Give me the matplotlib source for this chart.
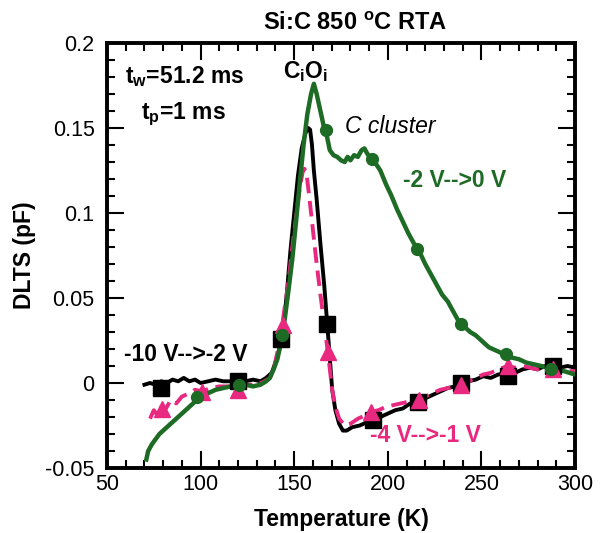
import matplotlib
matplotlib.use("Agg")
import matplotlib.pyplot as plt

plt.rcParams['font.family'] = ['Liberation Sans', 'DejaVu Sans']
plt.rcParams['mathtext.fontset'] = 'custom'
plt.rcParams['mathtext.rm'] = 'Liberation Sans:bold'
plt.rcParams['mathtext.bf'] = 'Liberation Sans:bold'

# ---- data ----
black_T = [70, 73, 76, 79, 82, 85, 88, 91, 94, 97, 100, 104, 108, 112, 116, 120, 124, 128, 132, 135,
           138, 140, 142, 144, 146, 148, 150, 152, 154, 156, 157.5, 158.5, 159.5, 160.5, 162, 164, 166,
           167.7, 169, 170.3, 172, 174, 176, 178, 181, 185, 189, 192, 196, 200, 204, 208, 212, 216, 220,
           224, 228, 232, 236, 239, 243, 247, 251, 255, 259, 264, 268, 272, 276, 280, 284, 288, 292, 296, 300]
black_V = [-0.001, 0.000, -0.001, 0.001, 0.000, 0.002, 0.001, 0.003, 0.001, 0.002, 0.000, 0.001, 0.002,
           0.001, 0.001, 0.002, 0.001, 0.002, 0.001, 0.003, 0.006, 0.012, 0.020, 0.030, 0.052, 0.078, 0.100,
           0.122, 0.138, 0.147, 0.150, 0.149, 0.140, 0.125, 0.108, 0.082, 0.058, 0.034, 0.015, -0.004,
           -0.016, -0.024, -0.028, -0.028, -0.026, -0.025, -0.023, -0.022, -0.020, -0.018, -0.016, -0.015,
           -0.012, -0.011, -0.009, -0.007, -0.005, -0.003, -0.002, 0.000, 0.001, 0.002, 0.004, 0.003, 0.005,
           0.006, 0.006, 0.008, 0.009, 0.008, 0.010, 0.010, 0.009, 0.010, 0.009]
black_mT = [78.7, 120, 143, 167.7, 192, 216, 239, 264, 288]
black_mV = [-0.003, 0.001, 0.026, 0.035, -0.022, -0.011, 0.000, 0.004, 0.010]

pink_T = [73, 75, 77, 79, 81, 84, 87, 90, 94, 97, 101, 105, 110, 115, 120, 125, 130, 134, 137, 139, 141,
          143, 145, 147, 149, 151, 153, 154.5, 155.5, 156.6, 158, 160, 162, 164, 166, 168, 170.3, 172, 174,
          177, 180, 184, 188, 191, 195, 199, 203, 207, 211, 216, 220, 224, 228, 232, 236, 239, 243, 247,
          251, 255, 259, 264, 268, 272, 276, 280, 284, 288, 292, 296, 300]
pink_V = [-0.021, -0.016, -0.019, -0.014, -0.016, -0.010, -0.012, -0.008, -0.006, -0.004, -0.005, -0.003,
          -0.002, -0.002, -0.004, -0.001, -0.001, 0.001, 0.003, 0.008, 0.018, 0.030, 0.045, 0.060, 0.080,
          0.098, 0.115, 0.124, 0.126, 0.123, 0.110, 0.090, 0.070, 0.052, 0.035, 0.018, -0.004, -0.014,
          -0.021, -0.025, -0.024, -0.021, -0.019, -0.017, -0.016, -0.014, -0.013, -0.012, -0.011, -0.010,
          -0.008, -0.006, -0.004, -0.003, -0.002, -0.001, 0.001, 0.003, 0.005, 0.006, 0.008, 0.010, 0.009,
          0.010, 0.009, 0.008, 0.009, 0.008, 0.008, 0.007, 0.007]
pink_mT = [79.6, 101, 120, 144, 168, 191, 216.7, 239, 264, 288]
pink_mV = [-0.015, -0.005, -0.004, 0.034, 0.018, -0.017, -0.010, -0.001, 0.010, 0.008]

green_T = [71, 72, 74, 76, 78, 80, 83, 86, 89, 92, 95, 98, 101, 104, 108, 112, 116, 120, 124, 128, 132,
           135, 137, 139, 141, 143, 145, 147, 149, 151, 153, 155, 157, 159, 160.5, 162, 164, 166, 167.5,
           169, 171, 173, 175, 177, 178.5, 180, 182, 184, 186, 187.5, 189, 191, 193, 196, 199, 202, 205,
           208, 211, 214, 217, 220, 223, 226, 229, 232, 235, 238, 241, 244, 247, 250, 254, 258, 262, 266,
           270, 274, 278, 282, 286, 290, 294, 297, 300]
green_V = [-0.045, -0.040, -0.036, -0.033, -0.030, -0.028, -0.025, -0.022, -0.019, -0.016, -0.013, -0.010,
           -0.008, -0.006, -0.004, -0.003, -0.002, -0.001, -0.001, -0.002, -0.001, 0.001, 0.003, 0.008,
           0.014, 0.024, 0.038, 0.055, 0.073, 0.095, 0.118, 0.140, 0.158, 0.170, 0.176, 0.170, 0.160, 0.150,
           0.145, 0.137, 0.134, 0.133, 0.131, 0.130, 0.133, 0.131, 0.134, 0.133, 0.137, 0.138, 0.135, 0.132,
           0.130, 0.125, 0.117, 0.110, 0.102, 0.095, 0.088, 0.082, 0.077, 0.070, 0.064, 0.058, 0.052, 0.048,
           0.042, 0.036, 0.033, 0.030, 0.028, 0.025, 0.021, 0.019, 0.017, 0.015, 0.014, 0.012, 0.011, 0.010,
           0.009, 0.008, 0.007, 0.006, 0.005]
green_mT = [98, 120.4, 143.5, 166.8, 191.8, 215.7, 238.9, 263, 287]
green_mV = [-0.008, -0.001, 0.028, 0.149, 0.132, 0.079, 0.035, 0.017, 0.008]

xticks = [50, 100, 150, 200, 250, 300]
yticks = [-0.05, 0, 0.05, 0.1, 0.15, 0.2]
ytick_labels = ["-0.05", "0", "0.05", "0.1", "0.15", "0.2"]

GREEN = "#1d6b24"
PINK = "#e8297f"
BLACK = "#000000"

fig = plt.figure(figsize=(6.03, 5.33), dpi=100)
ax = fig.add_axes([107/603, 1-468/533, (575-107)/603, (468-43)/533])

ax.plot(black_T, black_V, color=BLACK, lw=2.8, zorder=3)
ax.plot(pink_T, pink_V, color=PINK, lw=2.8, dashes=(4, 2), zorder=4)
ax.plot(green_T, green_V, color=GREEN, lw=3.2, zorder=5)

ax.plot(black_mT, black_mV, ls='none', marker='s', ms=11, color=BLACK, zorder=6)
ax.plot(pink_mT, pink_mV, ls='none', marker='^', ms=11, color=PINK, zorder=7)
ax.plot(green_mT, green_mV, ls='none', marker='o', ms=8.5, color=GREEN, zorder=8)

ax.set_xlim(50, 300)
ax.set_ylim(-0.05, 0.2)
ax.set_xticks(xticks)
ax.set_xticklabels([str(t) for t in xticks])
ax.set_yticks(yticks)
ax.set_yticklabels(ytick_labels)
ax.set_xticks(range(50, 301, 10), minor=True)
ax.set_yticks([i * 0.01 for i in range(-5, 21)], minor=True)

ax.tick_params(which='both', direction='in', top=True, right=True, width=1.5, labelsize=15.5)
ax.tick_params(axis='x', pad=4)
ax.tick_params(axis='y', pad=9)
ax.tick_params(which='major', length=12)
ax.tick_params(which='minor', length=6)
for s in ax.spines.values():
    s.set_linewidth(2.8)

ax.set_xlabel("Temperature (K)", fontsize=16.5, fontweight='bold', labelpad=10)
ax.set_ylabel("DLTS (pF)", fontsize=16.5, fontweight='bold', labelpad=6.5)

ax.text(182.7, 0.2115, r"Si:C 850 $^{\rm o}$C RTA", fontsize=17, fontweight='bold',
        ha='center', va='center')
ax.text(59.5, 0.180, r"t$_{\rm w}$=51.2 ms", fontsize=16.5, fontweight='bold', ha='left', va='center')
ax.text(68, 0.158, r"t$_{\rm p}$=1 ms", fontsize=16.5, fontweight='bold', ha='left', va='center')
ax.text(144, 0.183, r"C$_{\rm i}$O$_{\rm i}$", fontsize=16.5, fontweight='bold', ha='left', va='center')
ax.text(177, 0.151, "C cluster", fontsize=16.5, style='italic', ha='left', va='center')
ax.text(208, 0.119, "-2 V-->0 V", fontsize=16.5, fontweight='bold', color=GREEN, ha='left', va='center')
ax.text(59, 0.017, "-10 V-->-2 V", fontsize=16.5, fontweight='bold', color=BLACK, ha='left', va='center')
ax.text(190.5, -0.031, "-4 V-->-1 V", fontsize=16.5, fontweight='bold', color=PINK, ha='left', va='center')

fig.savefig("out.png", dpi=100)
